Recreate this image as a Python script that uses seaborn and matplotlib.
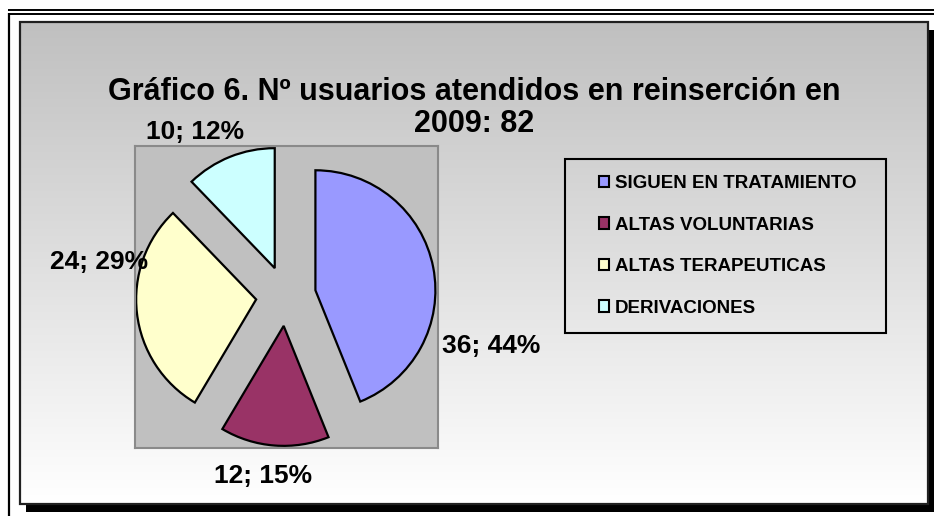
import numpy as np
import matplotlib
matplotlib.use("Agg")
import matplotlib.pyplot as plt
from matplotlib.patches import Rectangle
from matplotlib.colors import LinearSegmentedColormap
import seaborn as sns

# ---- data ----
categories = ["SIGUEN EN TRATAMIENTO", "ALTAS VOLUNTARIAS", "ALTAS TERAPEUTICAS", "DERIVACIONES"]
values = [36, 12, 24, 10]
colors = ["#9999FF", "#993366", "#FFFFCC", "#CCFFFF"]
title_lines = ["Gráfico 6. Nº usuarios atendidos en reinserción en", "2009: 82"]

# label positions (pie data units, baseline) - layout only
label_pos = [(1.708, -0.475), (-0.19, -1.558), (-1.556, 0.225), (-0.758, 1.308)]

sns.set_theme(style="white")
plt.rcParams["font.family"] = ["Liberation Sans", "DejaVu Sans"]
plt.rcParams["text.color"] = "black"

W, H = 934, 516
fig = plt.figure(figsize=(W / 100, H / 100), dpi=100)
fig.patch.set_facecolor("white")

# background / decoration axes in pixel coordinates
bg = fig.add_axes([0, 0, 1, 1], zorder=0)
bg.set_xlim(0, W)
bg.set_ylim(H, 0)
bg.axis("off")

# outer double border lines
bg.plot([8, W], [10, 10], color="black", lw=1.4, solid_capstyle="butt")
bg.plot([8, W], [13.5, 13.5], color="black", lw=1.4, solid_capstyle="butt")
bg.plot([9, 9], [13, H], color="black", lw=1.6, solid_capstyle="butt")

# shadow
bg.add_patch(Rectangle((26, 30), W - 26, 482, facecolor="black", edgecolor="none", zorder=1))
# gradient chart area
cmap = LinearSegmentedColormap.from_list("g", ["#C0C0C0", "#FFFFFF"])
grad = np.linspace(0, 1, 256).reshape(-1, 1)
bg.imshow(grad, extent=(20, 928, 504, 22), aspect="auto", cmap=cmap, origin="upper", zorder=2)
bg.add_patch(Rectangle((20, 22), 908, 482, fill=False, edgecolor="#202020", lw=1.6, zorder=3))
bg.set_xlim(0, W)
bg.set_ylim(H, 0)

# legend frame
bg.add_patch(Rectangle((565, 159), 321, 174, fill=False, edgecolor="black", lw=1.5, zorder=4))

# title
fig.text(474 / W, 1 - 100 / H, title_lines[0], ha="center", va="baseline",
         fontsize=22, fontweight="bold", color="black")
fig.text(474 / W, 1 - 132 / H, title_lines[1], ha="center", va="baseline",
         fontsize=22, fontweight="bold", color="black")

# pie axes
pax = fig.add_axes([135 / W, (H - 448) / H, 303 / W, 302 / H], zorder=5)
wedges, _ = pax.pie(values, explode=[0.25] * len(values), colors=colors,
                    startangle=90, counterclock=False,
                    wedgeprops=dict(edgecolor="black", linewidth=1.6))
pax.set_frame_on(True)
pax.set_facecolor("#C0C0C0")
for s in pax.spines.values():
    s.set_color("#8A8A8A")
    s.set_linewidth(1.5)
pax.set_aspect("auto")
pax.set_xlim(-1.258, 1.267)
pax.set_ylim(-1.267, 1.25)
pax.set_xticks([])
pax.set_yticks([])

total = sum(values)
for v, (x, y) in zip(values, label_pos):
    pax.text(x, y, f"{v}; {round(100 * v / total)}%", ha="center", va="baseline",
             fontsize=19, fontweight="bold", color="black", clip_on=False, zorder=10)

# legend
leg = fig.legend(wedges, categories, loc="upper left",
                 bbox_to_anchor=(599 / W, 1 - 175 / H), frameon=False,
                 prop=dict(size=13.5, weight="bold"),
                 handlelength=0.55, handleheight=0.55, handletextpad=0.28,
                 labelspacing=1.31, borderpad=0, borderaxespad=0)
for t in leg.get_texts():
    t.set_color("black")
for h in leg.legend_handles:
    h.set_linewidth(1.5)
    h.set_edgecolor("black")

fig.savefig("out.png", dpi=100)
